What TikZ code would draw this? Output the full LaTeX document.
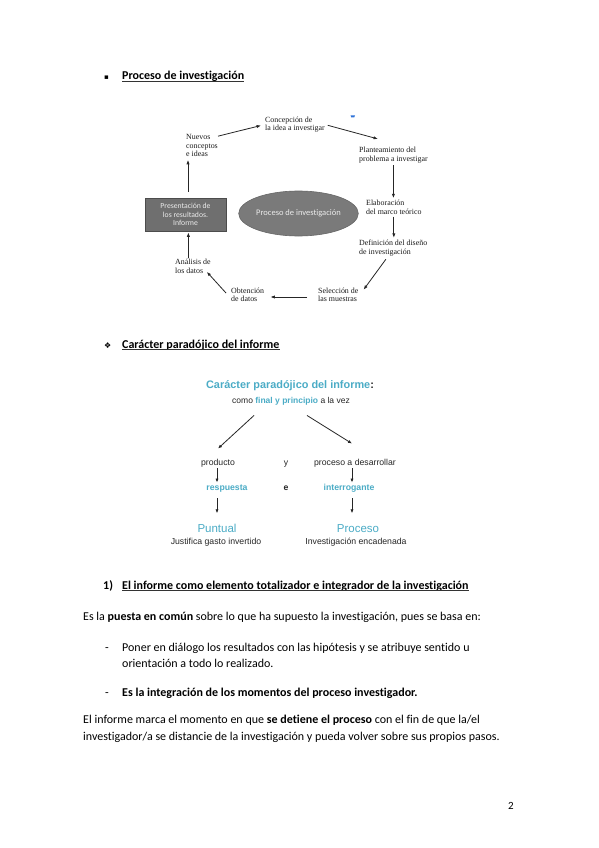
\documentclass[tikz,border=0pt]{standalone}
\usepackage{fontspec}
\setmainfont{Carlito}[Ligatures=NoCommon]
\newfontfamily\tnr{Liberation Serif}
\newfontfamily\ari{Liberation Sans}
\newfontfamily\dejavu{DejaVu Sans}
\usetikzlibrary{arrows.meta,shapes.geometric}
\definecolor{aqua}{HTML}{4BACC6}
\definecolor{txtgray}{HTML}{262626}
\definecolor{boxgray}{HTML}{6F6F6F}
\definecolor{ellgray}{HTML}{7A7A7A}
\definecolor{markblue}{HTML}{2F72D8}
\tikzset{
  body/.style={inner sep=0pt, anchor=west, font=\fontsize{12}{14}\selectfont, text height=8.7pt, text depth=2.7pt},
  bodyb/.style={body, font=\bfseries\fontsize{12}{14}\selectfont},
  lab/.style={inner sep=0pt, anchor=west, align=left, font=\tnr\fontsize{7.9}{8.5}\selectfont, text=black!90},
  sans/.style={inner sep=0pt, anchor=center, font=\ari\fontsize{8.7}{10}\selectfont, text=txtgray, text height=6.5pt, text depth=2pt},
  arr/.style={-{Latex[length=4.5pt,width=3.2pt]}, line width=0.8pt, draw=black!85},
  arrb/.style={-{Latex[length=4pt,width=3.2pt]}, line width=0.8pt, draw=black!85},
  ul/.style={line width=0.6pt, draw=black!80}
}
\begin{document}
\begin{tikzpicture}[x=1pt,y=-1pt]
\useasboundingbox[fill=white] (0,0) rectangle (599,848);

% ---------- Heading 1 ----------
\node[body, font=\dejavu\fontsize{7}{8}\selectfont] (b1) at (104,77) {▪};
\node[bodyb] (h1) at (122,77) {Proceso de investigación};
\draw[ul] ([yshift=-1.7pt]h1.base west) -- ([yshift=-1.7pt]h1.base east);

% ---------- Diagram 1 ----------
\node[lab] (concep) at (265,124.5) {Concepción de\\la idea a investigar};
\node[lab] (nuevos) at (186,145.5) {Nuevos\\conceptos\\e ideas};
\node[lab] (plant) at (359,155) {Planteamiento del\\problema a investigar};
\node[lab] (elab) at (366,207.5) {Elaboración\\del marco teórico};
\node[lab] (defin) at (359,248) {Definición del diseño\\de investigación};
\node[lab] (selec) at (318,295) {Selección de\\las muestras};
\node[lab] (obten) at (231,295) {Obtención\\de datos};
\node[lab] (anal) at (175,266.5) {Análisis de\\los datos};
\node[draw=black!70, fill=boxgray, line width=0.6pt, minimum width=81pt, minimum height=33pt, inner sep=0pt,
      align=center, text=white!92!black, font=\fontsize{7.7}{8.7}\selectfont] (rect) at (185.5,214.5)
      {Presentación de\\los resultados.\\Informe};
\node[ellipse, draw=black!60, fill=ellgray, line width=0.6pt, minimum width=101pt, minimum height=45pt, inner sep=0pt,
      text=white!92!black, font=\fontsize{8.5}{9}\selectfont] (ell) at (298.5,213.5) {Proceso de investigación};
\fill[markblue] (350.5,115.3) -- (355,115.3) -- (354.2,117.5) -- (351.3,117.5) -- cycle;

\draw[arr, shorten >=4pt] ([yshift=-2pt]nuevos.north east) -- (concep.west);
\draw[arr, shorten <=3pt] (concep.east) -- ([xshift=19pt,yshift=8pt]plant.north west);
\draw[arr, shorten <=2pt, shorten >=2pt] (plant.south) -- (plant.south |- elab.north);
\draw[arr, shorten <=2pt, shorten >=2pt] (elab.south) -- (elab.south |- defin.north);
\draw[arr, shorten <=4pt] ([xshift=-5pt]defin.south) -- ([xshift=5pt,yshift=-2pt]selec.north east);
\draw[arr, shorten <=11pt, shorten >=6pt] ([yshift=-2pt]selec.west) -- ([yshift=-2pt]obten.east);
\draw[arr] ([xshift=-5pt,yshift=2pt]obten.west) -- ([xshift=-4pt,yshift=2pt]anal.south east);
\draw[arr, shorten <=1pt, shorten >=1pt] ([xshift=-4.5pt]anal.north) -- ([xshift=-4.5pt]anal.north |- rect.south);
\draw[arr, shorten <=6pt, shorten >=3pt] ([xshift=2.5pt]rect.north) -- ([xshift=2.5pt]rect.north |- nuevos.south);

% ---------- Heading 2 ----------
\node[body, font=\dejavu\fontsize{8}{9}\selectfont] (b2) at (104,345) {❖};
\node[bodyb] (h2) at (122,345) {Carácter paradójico del informe};
\draw[ul] ([yshift=-1.7pt]h2.base west) -- ([yshift=-1.7pt]h2.base east);

% ---------- Diagram 2 ----------
\node[sans, font=\ari\bfseries\fontsize{10.9}{12}\selectfont, text height=8pt] (t2) at (290,385)
  {\textcolor{aqua}{Carácter paradójico del informe}:};
\node[sans, font=\ari\fontsize{8.5}{10}\selectfont] (sub) at (291,401)
  {como \textcolor{aqua}{\bfseries final y principio} a la vez};
\node[sans] (prod) at (218,463) {producto};
\node[sans] (yy) at (286,463) {y};
\node[sans] (proc) at (355,463) {proceso a desarrollar};
\node[sans, font=\ari\bfseries\fontsize{8.7}{10}\selectfont, text=aqua] (resp) at (227,488) {respuesta};
\node[sans, font=\ari\bfseries\fontsize{8.7}{10}\selectfont] (ee) at (286,488) {e};
\node[sans, font=\ari\bfseries\fontsize{8.7}{10}\selectfont, text=aqua] (interr) at (349,488) {interrogante};
\node[sans, font=\ari\fontsize{11.5}{13}\selectfont, text=aqua, text height=8.5pt, text depth=2.5pt] (punt) at (217,529) {Puntual};
\node[sans, font=\ari\fontsize{11.5}{13}\selectfont, text=aqua, text height=8.5pt, text depth=2.5pt] (proc2) at (358,529) {Proceso};
\node[sans] (just) at (216,542) {Justifica gasto invertido};
\node[sans] (inv) at (356,542) {Investigación encadenada};

\draw[arrb] ([xshift=-37pt,yshift=-10pt]sub.south) -- ([yshift=10pt]prod.north);
\draw[arrb] ([xshift=16pt,yshift=-10pt]sub.south) -- ([xshift=-3pt,yshift=15pt]proc.north);
\draw[arrb, shorten <=1pt, shorten >=1pt] ([xshift=-1pt]prod.south) -- ([xshift=-1pt]prod.south |- resp.north);
\draw[arrb, shorten <=1pt, shorten >=1pt] ([xshift=-3pt]proc.south) -- ([xshift=-3pt]proc.south |- interr.north);
\draw[arrb, shorten <=6pt, shorten >=10pt] (punt.north |- resp.south) -- (punt.north);
\draw[arrb, shorten <=6pt, shorten >=10pt] ([xshift=3pt]interr.south) -- ([xshift=3pt]interr.south |- proc2.north);

% ---------- Section 1) ----------
\node[bodyb] (n1) at (103,586) {1)};
\node[bodyb] (h3) at (122,586) {El informe como elemento totalizador e integrador de la investigación};
\draw[ul] ([yshift=-1.7pt]h3.base west) -- ([yshift=-1.7pt]h3.base east);

\node[body] (p1) at (83,617) {Es la \textbf{puesta en común} sobre lo que ha supuesto la investigación, pues se basa en:};
\node[body] (d1) at (105,648) {-};
\node[body] (p2) at (122,648) {Poner en diálogo los resultados con las hipótesis y se atribuye sentido u};
\node[body] (p3) at (122,664) {orientación a todo lo realizado.};
\node[body] (d2) at (105,693) {-};
\node[bodyb] (p4) at (122,693) {Es la integración de los momentos del proceso investigador.};
\node[body] (p5) at (83,720) {El informe marca el momento en que \textbf{se detiene el proceso} con el fin de que la/el};
\node[body] (p6) at (83,737) {investigador/a se distancie de la investigación y pueda volver sobre sus propios pasos.};

\node[body, anchor=center, font=\fontsize{11}{13}\selectfont] (pg) at (511,806) {2};
\end{tikzpicture}
\end{document}
